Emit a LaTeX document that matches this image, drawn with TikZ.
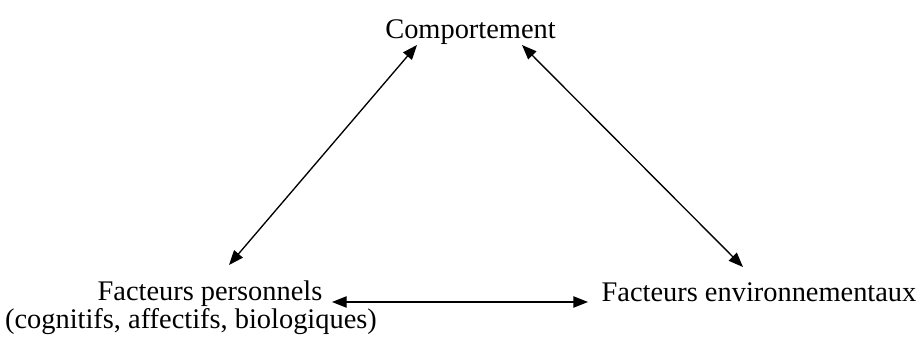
\documentclass[tikz,border=0pt]{standalone}
\usepackage{fontspec}
\setmainfont{Liberation Serif}
\usetikzlibrary{arrows.meta,calc}
\begin{document}
\begin{tikzpicture}[x=0.75pt,y=-0.75pt,
  lbl/.style={inner sep=0pt,anchor=base,font=\fontsize{21.3}{21}\selectfont},
  dbl/.style={line width=1pt,{Triangle[length=11pt,width=8.5pt]}-{Triangle[length=11pt,width=8.5pt]}}]
\useasboundingbox (0,0) rectangle (922,337);
\node[lbl] (cp) at (470.5,38) {Comportement};
\node[lbl,align=center] (fp) at (191,328) {\hspace*{28.5pt}Facteurs personnels\\(cognitifs, affectifs, biologiques)};
\node[lbl] (fe) at (759,301) {Facteurs environnementaux};
\draw[dbl] ($(fp.base)+(38,-63)$) -- ($(cp.base)+(-53.5,7)$);
\draw[dbl] ($(fe.base)+(-16,-34)$) -- ($(cp.base)+(51.5,7)$);
\draw[dbl] ($(fp.base)+(141,-26)$) -- ($(fe.base)+(-171,1)$);
\end{tikzpicture}
\end{document}
